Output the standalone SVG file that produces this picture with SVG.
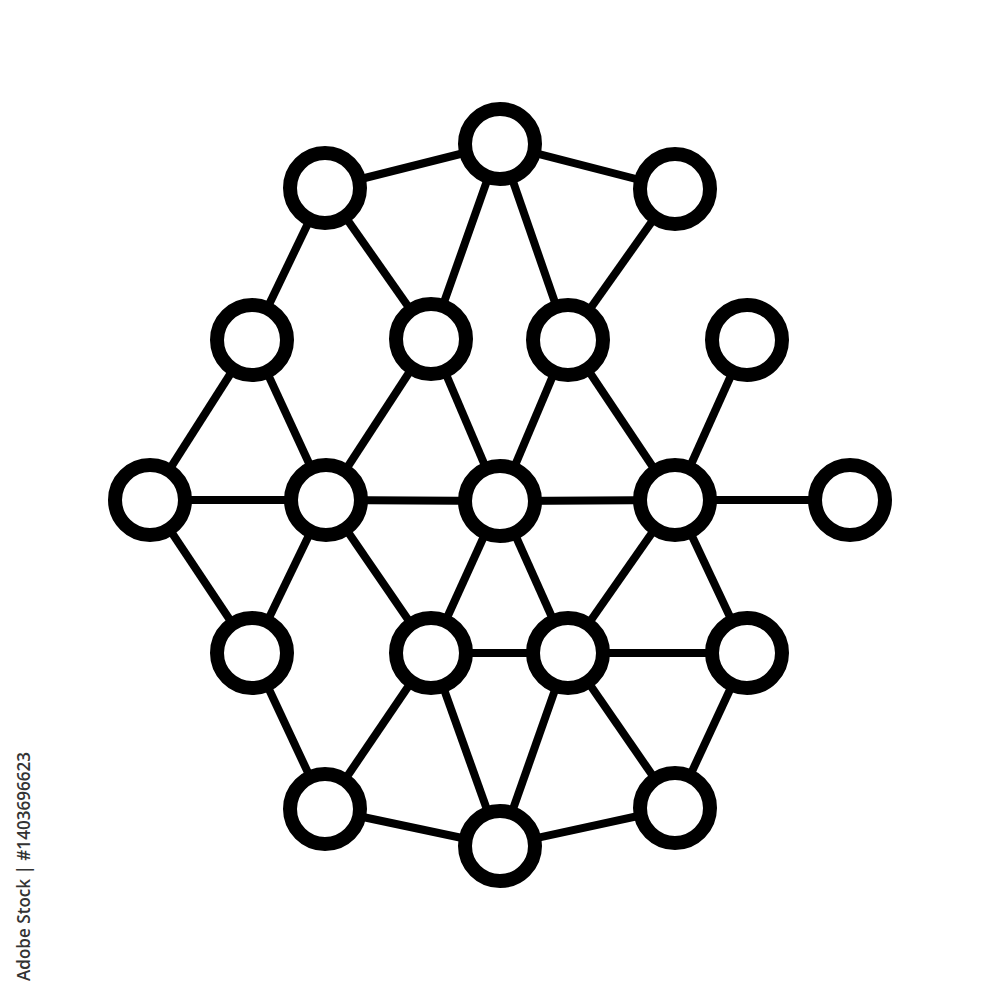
<svg xmlns="http://www.w3.org/2000/svg" width="1000" height="1000" viewBox="0 0 1000 1000">
<style>
.edge{stroke:#000;stroke-width:8;stroke-linecap:butt;fill:none}
.node circle{fill:#fff;stroke:#000;stroke-width:14}
.credit{font-family:"Open Sans","Noto Sans",sans-serif;font-size:18px;font-weight:600;fill:#333}
</style>
<rect width="1000" height="1000" fill="#fff"/>
<g id="connectors">
<line class="edge" x1="500" y1="144" x2="325" y2="188"/>
<line class="edge" x1="500" y1="144" x2="675" y2="189"/>
<line class="edge" x1="500" y1="144" x2="431" y2="339"/>
<line class="edge" x1="500" y1="144" x2="568" y2="340"/>
<line class="edge" x1="325" y1="188" x2="252" y2="340"/>
<line class="edge" x1="325" y1="188" x2="431" y2="339"/>
<line class="edge" x1="675" y1="189" x2="568" y2="340"/>
<line class="edge" x1="252" y1="340" x2="150" y2="500"/>
<line class="edge" x1="252" y1="340" x2="326" y2="500"/>
<line class="edge" x1="431" y1="339" x2="326" y2="500"/>
<line class="edge" x1="431" y1="339" x2="500" y2="501"/>
<line class="edge" x1="568" y1="340" x2="500" y2="501"/>
<line class="edge" x1="568" y1="340" x2="675" y2="500"/>
<line class="edge" x1="747" y1="340" x2="675" y2="500"/>
<line class="edge" x1="150" y1="500" x2="326" y2="500"/>
<line class="edge" x1="150" y1="500" x2="252" y2="653"/>
<line class="edge" x1="326" y1="500" x2="500" y2="501"/>
<line class="edge" x1="326" y1="500" x2="252" y2="653"/>
<line class="edge" x1="326" y1="500" x2="431" y2="653"/>
<line class="edge" x1="500" y1="501" x2="675" y2="500"/>
<line class="edge" x1="500" y1="501" x2="431" y2="653"/>
<line class="edge" x1="500" y1="501" x2="568" y2="653"/>
<line class="edge" x1="675" y1="500" x2="850" y2="500"/>
<line class="edge" x1="675" y1="500" x2="568" y2="653"/>
<line class="edge" x1="675" y1="500" x2="747" y2="653"/>
<line class="edge" x1="252" y1="653" x2="325" y2="809"/>
<line class="edge" x1="431" y1="653" x2="568" y2="653"/>
<line class="edge" x1="431" y1="653" x2="325" y2="809"/>
<line class="edge" x1="431" y1="653" x2="500" y2="846"/>
<line class="edge" x1="568" y1="653" x2="747" y2="653"/>
<line class="edge" x1="568" y1="653" x2="500" y2="846"/>
<line class="edge" x1="568" y1="653" x2="675" y2="808"/>
<line class="edge" x1="747" y1="653" x2="675" y2="808"/>
<line class="edge" x1="325" y1="809" x2="500" y2="846"/>
<line class="edge" x1="500" y1="846" x2="675" y2="808"/>
</g>
<g id="n1" class="node"><circle cx="500" cy="144" r="35"/></g>
<g id="n2" class="node"><circle cx="325" cy="188" r="35"/></g>
<g id="n3" class="node"><circle cx="675" cy="189" r="35"/></g>
<g id="n4" class="node"><circle cx="252" cy="340" r="35"/></g>
<g id="n5" class="node"><circle cx="431" cy="339" r="35"/></g>
<g id="n6" class="node"><circle cx="568" cy="340" r="35"/></g>
<g id="n7" class="node"><circle cx="747" cy="340" r="35"/></g>
<g id="n8" class="node"><circle cx="150" cy="500" r="35"/></g>
<g id="n9" class="node"><circle cx="326" cy="500" r="35"/></g>
<g id="n10" class="node"><circle cx="500" cy="501" r="35"/></g>
<g id="n11" class="node"><circle cx="675" cy="500" r="35"/></g>
<g id="n12" class="node"><circle cx="850" cy="500" r="35"/></g>
<g id="n13" class="node"><circle cx="252" cy="653" r="35"/></g>
<g id="n14" class="node"><circle cx="431" cy="653" r="35"/></g>
<g id="n15" class="node"><circle cx="568" cy="653" r="35"/></g>
<g id="n16" class="node"><circle cx="747" cy="653" r="35"/></g>
<g id="n17" class="node"><circle cx="325" cy="809" r="35"/></g>
<g id="n18" class="node"><circle cx="500" cy="846" r="35"/></g>
<g id="n19" class="node"><circle cx="675" cy="808" r="35"/></g>
<text class="credit" transform="translate(30,981) rotate(-90)" textLength="229" lengthAdjust="spacingAndGlyphs">Adobe Stock | #1403696623</text>
</svg>
